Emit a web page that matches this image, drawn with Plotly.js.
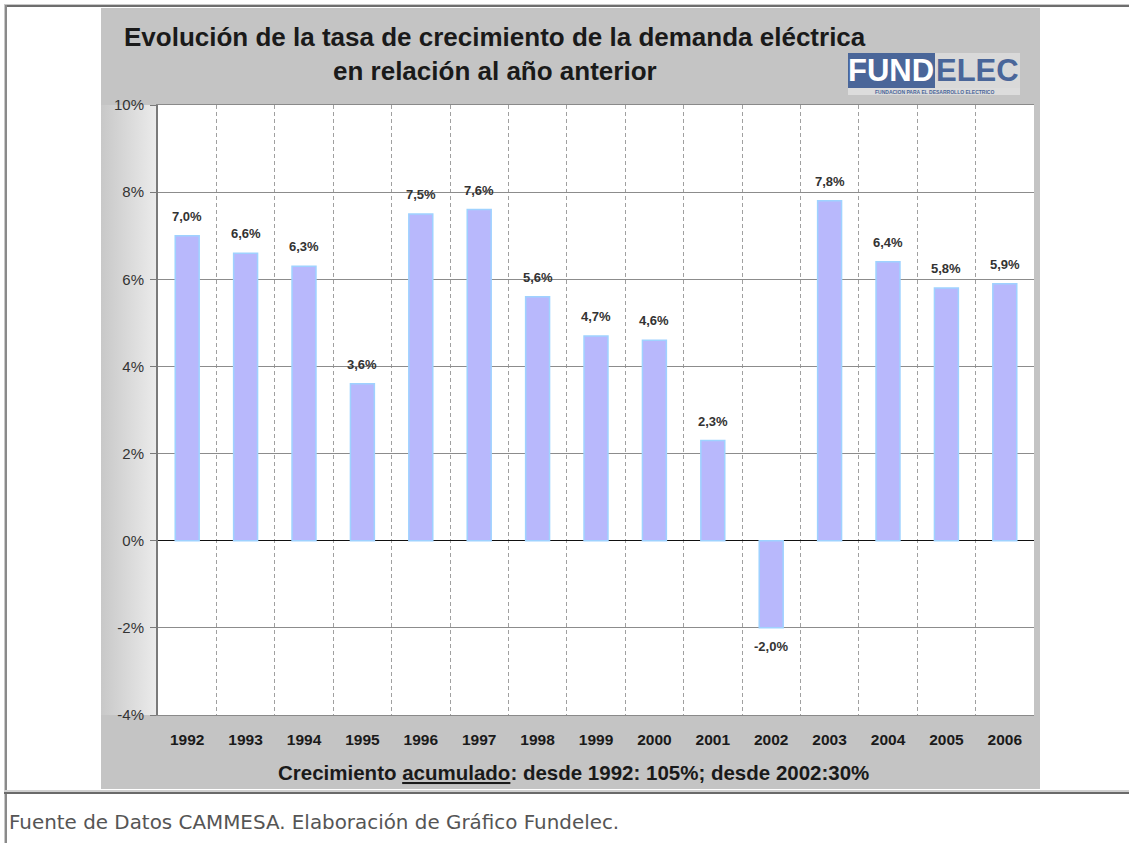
<!DOCTYPE html>
<html>
<head>
<meta charset="utf-8">
<script src="https://cdn.plot.ly/plotly-3.0.1.min.js"></script>
<style>
  html, body { margin:0; padding:0; background:#fff; width:1129px; height:843px; overflow:hidden; }
  .ln { position:absolute; }
  #chartbox { position:absolute; left:101px; top:8px; width:939px; height:781px;
    background:
      linear-gradient(to right, rgba(200,200,200,1) 0px, rgba(236,236,236,1) 57px) 0px 97px / 57px 610px no-repeat,
      #c4c4c4; }
  #chart { position:absolute; left:0; top:0; width:939px; height:781px; }
  #caption { position:absolute; left:9px; top:811px; font-family:"DejaVu Sans", Verdana, sans-serif; font-size:19.9px; color:#555; white-space:nowrap; }
</style>
</head>
<body>
<div class="ln" style="left:4px;top:4px;width:1125px;height:1px;background:#c8c8c8"></div>
<div class="ln" style="left:4px;top:5px;width:1125px;height:2px;background:#6e6e6e"></div>
<div class="ln" style="left:4px;top:4px;width:1px;height:839px;background:#c8c8c8"></div>
<div class="ln" style="left:5px;top:5px;width:2px;height:838px;background:#8a8a8a"></div>
<div id="chartbox"><div id="chart"></div></div>
<div class="ln" style="left:4px;top:790px;width:1125px;height:2px;background:#d0d0d0"></div>
<div class="ln" style="left:4px;top:792px;width:1125px;height:2px;background:#6a6a6a"></div>
<div id="caption">Fuente de Datos CAMMESA. Elaboración de Gráfico Fundelec.</div>
<script>
const years = ["1992","1993","1994","1995","1996","1997","1998","1999","2000","2001","2002","2003","2004","2005","2006"];
const growth = [7.0, 6.6, 6.3, 3.6, 7.5, 7.6, 5.6, 4.7, 4.6, 2.3, -2.0, 7.8, 6.4, 5.8, 5.9];
const yTicks = [-4, -2, 0, 2, 4, 6, 8, 10];
const titleLine1 = "Evolución de la tasa de crecimiento de la demanda eléctrica";
const titleLine2 = "en relación al año anterior";
const footNote = "Crecimiento <u>acumulado</u>: desde 1992: 105%; desde 2002:30%";

const fmt = v => v.toFixed(1).replace('.', ',') + '%';

const labelAnns = years.map((yr, i) => ({
  x: i, y: growth[i], xref: 'x', yref: 'y',
  text: '<b>' + fmt(growth[i]) + '</b>',
  showarrow: false,
  yanchor: growth[i] >= 0 ? 'bottom' : 'top',
  yshift: growth[i] >= 0 ? 10 : -9,
  font: {family: 'Liberation Sans, Arial, sans-serif', size: 13, color: '#333'}
}));

const W = 876, H = 610, L = 57, T = 97;
const px = x => (x - 101 - L) / W;        // page x -> paper x
const py = y => 1 + (T - (y - 8)) / H;     // page y -> paper y

const annotations = labelAnns.concat([
  {xref:'paper', yref:'paper', x: px(495), y: py(37), text: '<b>' + titleLine1 + '</b>', showarrow:false,
   xanchor:'center', yanchor:'middle', font:{family:'Liberation Sans, Arial, sans-serif', size:26, color:'#1a1a1a'}},
  {xref:'paper', yref:'paper', x: px(495), y: py(71), text: '<b>' + titleLine2 + '</b>', showarrow:false,
   xanchor:'center', yanchor:'middle', font:{family:'Liberation Sans, Arial, sans-serif', size:26, color:'#1a1a1a'}},
  {xref:'paper', yref:'paper', x: px(891), y: py(70), text: '<b>FUND</b>', showarrow:false,
   xanchor:'center', yanchor:'middle', font:{family:'Liberation Sans Narrow, Liberation Sans, Arial, sans-serif', size:31, color:'#ffffff'}},
  {xref:'paper', yref:'paper', x: px(977), y: py(70), text: '<b>ELEC</b>', showarrow:false,
   xanchor:'center', yanchor:'middle', font:{family:'Liberation Sans Narrow, Liberation Sans, Arial, sans-serif', size:31, color:'#4a6699'}},
  {xref:'paper', yref:'paper', x: px(934), y: py(91.5), text: '<b>FUNDACION PARA EL DESARROLLO ELECTRICO</b>', showarrow:false,
   xanchor:'center', yanchor:'middle', font:{family:'Liberation Sans, Arial, sans-serif', size:5, color:'#4a6699'}},
  {xref:'paper', yref:'paper', x: px(573), y: py(772), text: '<b>' + footNote + '</b>', showarrow:false,
   xanchor:'center', yanchor:'middle', font:{family:'Liberation Sans, Arial, sans-serif', size:20.5, color:'#1a1a1a'}}
]);

const shapes = [
  {type:'rect', xref:'paper', yref:'paper', x0: px(935), x1: px(1020), y0: py(88), y1: py(53), fillcolor:'#d9d9d9', line:{width:0}, layer:'below'},
  {type:'rect', xref:'paper', yref:'paper', x0: px(848), x1: px(935), y0: py(88), y1: py(53), fillcolor:'#4a6699', line:{width:0}, layer:'below'},
  {type:'rect', xref:'paper', yref:'paper', x0: px(848), x1: px(1020), y0: py(95), y1: py(88), fillcolor:'#dcdcdc', line:{width:0}, layer:'below'}
];

const trace = {
  type: 'bar', x: years, y: growth,
  marker: {color: '#b8b8fc', line: {color: '#9fd2ff', width: 1.5}},
  hoverinfo: 'x+y'
};

const layout = {
  width: 939, height: 781,
  margin: {l: L, r: 939 - L - W, t: T, b: 781 - T - H},
  paper_bgcolor: 'rgba(0,0,0,0)',
  plot_bgcolor: '#ffffff',
  bargap: 0.59,
  showlegend: false,
  separators: ',.',
  xaxis: {
    type: 'category', range: [-0.5, years.length - 0.5], autorange: false,
    tickson: 'boundaries', ticks: '', showgrid: true,
    gridcolor: '#a0a0a0', griddash: '4px,3px', gridwidth: 1,
    showline: true, linecolor: '#8a8a8a', linewidth: 1, mirror: true,
    tickangle: 0, ticklabelstandoff: 10,
    tickfont: {family: 'Liberation Sans, Arial, sans-serif', size: 15.5, color: '#1a1a1a', weight: 'bold'},
    ticklen: 0, automargin: false
  },
  yaxis: {
    range: [-4, 10], autorange: false, tickvals: yTicks, ticktext: yTicks.map(v => v + '%'),
    showgrid: true, gridcolor: '#8c8c8c', gridwidth: 1,
    zeroline: true, zerolinecolor: '#111', zerolinewidth: 1.5,
    showline: true, linecolor: '#7a7a7a', linewidth: 2,
    ticks: 'outside', ticklen: 6, tickcolor: '#7a7a7a', tickwidth: 1,
    ticklabelstandoff: 3,
    tickfont: {family: 'Liberation Sans, Arial, sans-serif', size: 15, color: '#333'},
    automargin: false
  },
  annotations: annotations,
  shapes: shapes
};

Plotly.newPlot('chart', [trace], layout, {displayModeBar: false, staticPlot: true});
</script>
</body>
</html>
